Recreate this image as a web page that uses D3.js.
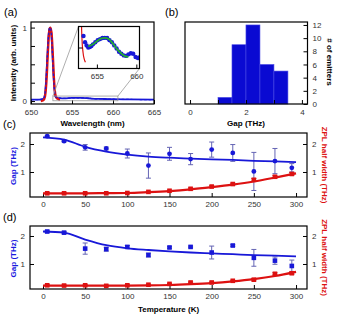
<!DOCTYPE html>
<html>
<head>
<meta charset="utf-8">
<script src="https://cdn.jsdelivr.net/npm/d3@7"></script>
<style>
  body { margin: 0; background: #fff; }
  text { font-family: "Liberation Sans", Arial, sans-serif; }
</style>
</head>
<body>
<div id="container"></div>
<script>
/* DATA */
// (a) spectrum
const specWl  = [650, 651, 651.5, 651.7, 651.85, 652.0, 652.15, 652.25, 652.35, 652.45, 652.55, 652.7, 652.85, 653.0, 653.2, 653.5, 654.0, 655.0, 656.0, 657.0, 658.0, 659.0, 660.0, 662.0, 665.0];
const specInt = [0.02, 0.02, 0.03, 0.09, 0.3, 0.62, 0.9, 0.99, 1.0, 0.95, 0.8, 0.45, 0.17, 0.06, 0.045, 0.04, 0.036, 0.042, 0.044, 0.038, 0.029, 0.028, 0.025, 0.022, 0.02];
const fitWl   = [651.2, 651.5, 651.7, 651.9, 652.05, 652.2, 652.35, 652.5, 652.65, 652.8, 652.95, 653.1, 653.25, 653.4, 653.55];
const fitInt  = [0.0, 0.01, 0.06, 0.3, 0.65, 0.93, 1.0, 0.93, 0.65, 0.3, 0.1, 0.045, 0.03, 0.024, 0.021];
// (a) inset
const insetWl  = [653.3, 653.5, 653.7, 653.9, 654.1, 654.3, 654.5, 654.8, 655.1, 655.4, 655.7, 656.0, 656.3, 656.6, 656.9, 657.2, 657.5, 657.8, 658.1, 658.4, 658.7, 659.0, 659.3, 659.6, 659.9, 660.2, 660.4];
const insetInt = [0.046, 0.040, 0.037, 0.035, 0.0355, 0.0365, 0.038, 0.040, 0.042, 0.043, 0.044, 0.0442, 0.044, 0.042, 0.040, 0.037, 0.034, 0.031, 0.029, 0.0275, 0.027, 0.0285, 0.0295, 0.029, 0.026, 0.025, 0.0255];
const greenWl  = [653.9, 654.5, 655.0, 655.5, 656.0, 656.5, 657.0, 657.5, 658.0, 658.5, 659.0];
const greenInt = [0.036, 0.038, 0.041, 0.0435, 0.0442, 0.043, 0.039, 0.034, 0.030, 0.027, 0.026];

// (b) histogram
const binStart = [1.0, 1.5, 2.0, 2.5, 3.0];
const binCount = [1, 9, 12, 6, 5];

// (c), (d) temperature series
const temps   = [5, 25, 50, 75, 100, 125, 150, 175, 200, 225, 250, 275, 295];
const gapC    = [2.28, 2.10, 1.88, 1.84, 1.66, 1.23, 1.65, 1.46, 1.80, 1.68, 1.02, 1.39, 1.15];
const gapErrC = [0.03, 0.03, 0.10, 0.05, 0.16, 0.45, 0.23, 0.20, 0.27, 0.30, 0.68, 0.45, 0.15];
const zplC    = [0.24, 0.24, 0.24, 0.24, 0.25, 0.29, 0.33, 0.40, 0.48, 0.57, 0.72, 0.83, 0.93];
const zplErrC = [0.02, 0.02, 0.02, 0.02, 0.02, 0.02, 0.02, 0.03, 0.03, 0.03, 0.05, 0.04, 0.05];
const gapD    = [2.16, 2.12, 1.55, 1.53, 1.61, 1.32, 1.59, 1.61, 1.41, 1.66, 1.22, 1.12, 0.93];
const gapErrD = [0.03, 0.04, 0.20, 0.07, 0.05, 0.07, 0.03, 0.03, 0.23, 0.03, 0.30, 0.13, 0.21];
const zplD    = [0.24, 0.23, 0.24, 0.22, 0.24, 0.26, 0.29, 0.34, 0.34, 0.40, 0.44, 0.65, 0.67];
const zplErrD = [0.02, 0.02, 0.02, 0.02, 0.02, 0.02, 0.02, 0.02, 0.02, 0.02, 0.04, 0.04, 0.04];
const fitT    = [0, 25, 50, 75, 100, 125, 150, 175, 200, 225, 250, 275, 300];
const gapFitC = [2.24, 2.16, 1.90, 1.73, 1.62, 1.55, 1.51, 1.48, 1.45, 1.43, 1.40, 1.38, 1.35];
const zplFitC = [0.24, 0.24, 0.24, 0.245, 0.25, 0.28, 0.32, 0.38, 0.46, 0.55, 0.66, 0.80, 0.95];
const gapFitD = [2.16, 2.12, 1.87, 1.67, 1.56, 1.50, 1.45, 1.41, 1.38, 1.35, 1.32, 1.30, 1.27];
const zplFitD = [0.23, 0.23, 0.23, 0.23, 0.23, 0.235, 0.25, 0.28, 0.32, 0.38, 0.46, 0.57, 0.72];

/* CONSTANTS */
const BLUE = "#1818d8", RED = "#dd1111", ERR = "#6464b4";
const intFmt = d3.format("d");

const svg = d3.select("#container")
  .append("svg")
  .attr("width", 339)
  .attr("height", 315);

function styleAxis(g) {
  g.select(".domain").remove();
  g.attr("font-family", null).attr("font-size", null);
  g.selectAll(".tick line").attr("stroke", "#000");
  g.selectAll(".tick text").attr("font-size", 8).attr("fill", "#333");
}

function frame(x0, x1, y0, y1) {
  svg.append("rect")
    .attr("x", x0).attr("y", y0)
    .attr("width", x1 - x0).attr("height", y1 - y0)
    .attr("fill", "none")
    .attr("stroke", "#000")
    .attr("stroke-width", 1.2);
}

function label(txt, x, y, opts = {}) {
  const t = svg.append("text")
    .attr("transform", `translate(${x},${y}) rotate(${opts.rot || 0})`)
    .attr("text-anchor", opts.anchor || "middle")
    .attr("font-size", opts.size || 8)
    .attr("font-weight", opts.bold === false ? "normal" : "bold")
    .attr("fill", opts.color || "#000")
    .text(txt);
  if (opts.rot) t.attr("dy", "0.35em");
  return t;
}

/* PANEL (a) */
const xA = d3.scaleLinear().domain([650, 665]).range([31, 154]);
const yA = d3.scaleLinear().domain([-0.04, 1.076]).range([104, 22]);

svg.append("g")
  .attr("transform", "translate(0,104)")
  .call(d3.axisBottom(xA).tickValues([650, 655, 660, 665]).tickSize(-4).tickPadding(5).tickFormat(intFmt))
  .call(styleAxis);
svg.append("g")
  .attr("transform", "translate(31,0)")
  .call(d3.axisLeft(yA).tickValues([0, 0.25, 0.5, 0.75, 1]).tickSize(-4).tickPadding(4)
    .tickFormat(d => (d === 0 || d === 1) ? d : ""))
  .call(styleAxis);

const specLine = d3.line().x((d, i) => xA(specWl[i])).y(d => yA(d)).curve(d3.curveMonotoneX);
const fitLine = d3.line().x((d, i) => xA(fitWl[i])).y(d => yA(d)).curve(d3.curveMonotoneX);

svg.append("path").datum(specInt).attr("d", specLine)
  .attr("fill", "none").attr("stroke", BLUE).attr("stroke-width", 1.8);
svg.append("path").datum(fitInt).attr("d", fitLine)
  .attr("fill", "none").attr("stroke", RED).attr("stroke-width", 2.4);
svg.append("path").datum(specInt).attr("d", specLine)
  .attr("fill", "none").attr("stroke", BLUE).attr("stroke-width", 1.2)
  .attr("stroke-dasharray", "2.5,2");

// inset
const xI = d3.scaleLinear().domain([652.67, 660.4]).range([78.5, 139.5]);
const yI = d3.scaleLinear().domain([0.015, 0.055]).range([68.5, 26.5]);

// zoom box + connector lines
const boxX0 = xA(652.67), boxX1 = xA(660.6), boxY0 = yA(0.068), boxY1 = yA(0.004);
svg.append("rect")
  .attr("x", boxX0).attr("y", boxY0)
  .attr("width", boxX1 - boxX0).attr("height", boxY1 - boxY0)
  .attr("fill", "none").attr("stroke", "#999").attr("stroke-width", 0.8);
svg.append("line")
  .attr("x1", boxX0).attr("y1", boxY0).attr("x2", 78.5).attr("y2", 26.5)
  .attr("stroke", "#999").attr("stroke-width", 0.8);
svg.append("line")
  .attr("x1", boxX1).attr("y1", boxY0).attr("x2", 139.5).attr("y2", 68.5)
  .attr("stroke", "#999").attr("stroke-width", 0.8);

svg.append("rect")
  .attr("x", 78.5).attr("y", 26.5).attr("width", 61).attr("height", 42)
  .attr("fill", "#fff");

svg.append("clipPath").attr("id", "insetClip")
  .append("rect").attr("x", 78.5).attr("y", 26.5).attr("width", 61).attr("height", 42);

const inset = svg.append("g").attr("clip-path", "url(#insetClip)");

inset.append("path").datum(fitInt)
  .attr("d", d3.line().x((d, i) => xI(fitWl[i])).y(d => yI(d)).curve(d3.curveMonotoneX))
  .attr("fill", "none").attr("stroke", RED).attr("stroke-width", 1.2);
inset.selectAll("circle.inset")
  .data(insetInt)
  .join("circle")
  .attr("class", "inset")
  .attr("cx", (d, i) => xI(insetWl[i]))
  .attr("cy", d => yI(d))
  .attr("r", 2.2)
  .attr("fill", BLUE);
inset.append("path").datum(greenInt)
  .attr("d", d3.line().x((d, i) => xI(greenWl[i])).y(d => yI(d)).curve(d3.curveMonotoneX))
  .attr("fill", "none").attr("stroke", "#22aa33").attr("stroke-width", 1.8);

svg.append("g")
  .attr("transform", "translate(0,68.5)")
  .call(d3.axisBottom(xI).tickValues([655, 660]).tickSize(-4).tickPadding(5).tickFormat(intFmt))
  .call(styleAxis);
svg.append("g")
  .attr("transform", "translate(78.5,0)")
  .call(d3.axisLeft(yI).tickValues([0.035]).tickSize(-4).tickFormat(""))
  .call(styleAxis);
frame(78.5, 139.5, 26.5, 68.5);

frame(31, 154, 22, 104);
label("Wavelength (nm)", 92.5, 126);
label("Intensity (arb. units)", 13, 63, { rot: -90 });

/* PANEL (b) */
const xB = d3.scaleLinear().domain([-0.18, 4.2]).range([185, 307.5]);
const yB = d3.scaleLinear().domain([0, 12.45]).range([104, 22]);

svg.selectAll("rect.bar")
  .data(binCount)
  .join("rect")
  .attr("class", "bar")
  .attr("x", (d, i) => xB(binStart[i]))
  .attr("width", (d, i) => xB(binStart[i] + 0.5) - xB(binStart[i]))
  .attr("y", d => yB(d))
  .attr("height", d => yB(0) - yB(d))
  .attr("fill", "#0a0ad2")
  .attr("stroke", "#4a4ae6")
  .attr("stroke-width", 0.6);

svg.append("g")
  .attr("transform", "translate(0,104)")
  .call(d3.axisBottom(xB).tickValues([0, 1, 2, 3, 4]).tickSize(-4).tickPadding(5)
    .tickFormat(d => d % 2 === 0 ? d : ""))
  .call(styleAxis);
svg.append("g")
  .attr("transform", "translate(307.5,0)")
  .call(d3.axisRight(yB).tickValues([0, 2, 4, 6, 8, 10, 12]).tickSize(-4).tickPadding(5).tickFormat(intFmt))
  .call(styleAxis);

frame(185, 307.5, 22, 104);
label("Gap (THz)", 246, 126);
label("# of emitters", 330, 62, { rot: 90 });

/* PANELS (c) AND (d) */
function tempPanel(top, bottom, gap, gapErr, zpl, zplErr, gapFit, zplFit, blueSquares, showXLabel) {
  const x = d3.scaleLinear().domain([-15.4, 313]).range([30, 307]);
  const y = d3.scaleLinear().domain([0.107, 2 + (bottom - top - 53) / 28]).range([bottom, top]);

  svg.append("g")
    .attr("transform", `translate(0,${bottom})`)
    .call(d3.axisBottom(x).tickValues([0, 50, 100, 150, 200, 250, 300]).tickSize(-4).tickPadding(4).tickFormat(intFmt))
    .call(styleAxis);
  svg.append("g")
    .attr("transform", "translate(30,0)")
    .call(d3.axisLeft(y).tickValues([1, 2]).tickSize(-4).tickPadding(5).tickFormat(intFmt))
    .call(styleAxis);
  svg.append("g")
    .attr("transform", "translate(307,0)")
    .call(d3.axisRight(y).tickValues([1, 2]).tickSize(-4).tickPadding(5).tickFormat(intFmt))
    .call(styleAxis);

  const fitGen = d3.line().x((d, i) => x(fitT[i])).y(d => y(d)).curve(d3.curveMonotoneX);

  // error bars
  const errs = [[gap, gapErr, ERR], [zpl, zplErr, "#b03030"]];
  errs.forEach(([vals, err, col]) => {
    const g = svg.append("g").attr("stroke", col).attr("stroke-width", 1);
    vals.forEach((v, i) => {
      const cx = x(temps[i]);
      g.append("line").attr("x1", cx).attr("x2", cx).attr("y1", y(v - err[i])).attr("y2", y(v + err[i]));
      g.append("line").attr("x1", cx - 2.5).attr("x2", cx + 2.5).attr("y1", y(v - err[i])).attr("y2", y(v - err[i]));
      g.append("line").attr("x1", cx - 2.5).attr("x2", cx + 2.5).attr("y1", y(v + err[i])).attr("y2", y(v + err[i]));
    });
  });

  svg.append("path").datum(gapFit).attr("d", fitGen)
    .attr("fill", "none").attr("stroke", BLUE).attr("stroke-width", 1.8);
  svg.append("path").datum(zplFit).attr("d", fitGen)
    .attr("fill", "none").attr("stroke", RED).attr("stroke-width", 2.2);

  if (blueSquares) {
    svg.append("g").selectAll("rect")
      .data(gap)
      .join("rect")
      .attr("x", (d, i) => x(temps[i]) - 2.3)
      .attr("y", d => y(d) - 2.3)
      .attr("width", 4.6).attr("height", 4.6)
      .attr("fill", BLUE);
  } else {
    svg.append("g").selectAll("circle")
      .data(gap)
      .join("circle")
      .attr("cx", (d, i) => x(temps[i]))
      .attr("cy", d => y(d))
      .attr("r", 2.4)
      .attr("fill", BLUE);
  }
  svg.append("g").selectAll("rect")
    .data(zpl)
    .join("rect")
    .attr("x", (d, i) => x(temps[i]) - 2.3)
    .attr("y", d => y(d) - 2.3)
    .attr("width", 4.6).attr("height", 4.6)
    .attr("fill", RED);

  frame(30, 307, top, bottom);
  const mid = (top + bottom) / 2;
  label("Gap (THz)", 13, mid + 1, { rot: -90, color: "#1a1ae0" });
  label("ZPL half width (THz)", 325, mid, { rot: 90, color: RED });
  if (showXLabel) label("Temperature (K)", 168.5, 312);
}

tempPanel(133, 197, gapC, gapErrC, zplC, zplErrC, gapFitC, zplFitC, false, false);
tempPanel(226, 289, gapD, gapErrD, zplD, zplErrD, gapFitD, zplFitD, true, true);

/* PANEL LETTERS */
label("(a)", 4, 16, { anchor: "start", size: 11, bold: false });
label("(b)", 165, 16, { anchor: "start", size: 11, bold: false });
label("(c)", 3, 128, { anchor: "start", size: 11, bold: false });
label("(d)", 3, 221, { anchor: "start", size: 11, bold: false });
</script>
</body>
</html>
